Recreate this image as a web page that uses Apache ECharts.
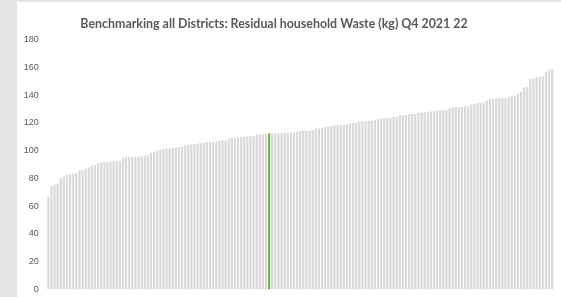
<!DOCTYPE html>
<html>
<head>
<meta charset="utf-8">
<script src="https://cdn.jsdelivr.net/npm/echarts@6/dist/echarts.min.js"></script>
<style>
  html, body { margin:0; padding:0; background:#e4e4e4; }
  #frame { position:absolute; left:17px; top:2px; right:0; bottom:0; background:#fff; }
  #main { position:absolute; left:0; top:0; width:561px; height:297px; }
</style>
</head>
<body>
<div id="frame"></div>
<div id="main"></div>
<script>
// residual household waste per district (kg), sorted ascending
var wasteValues = [
  67, 74.5, 75.4, 76.1, 80.2, 81.2, 82.6, 83, 83.4, 84,
  85.5, 86, 87, 87.7, 88.9, 89.6, 91, 91.5, 91.6, 91.7,
  92, 92.2, 92.3, 92.3, 94.8, 95.4, 95.5, 95.5, 95.6, 95.7,
  96.1, 96.3, 96.6, 98.3, 98.7, 100.2, 100.8, 101.1, 101.5, 101.6,
  101.7, 102.3, 102.6, 103, 103.6, 103.9, 104.4, 104.6, 105.1, 105.3,
  105.7, 106.3, 106.4, 106.4, 106.5, 107.3, 107.4, 107.5, 108.8, 109,
  109.1, 109.3, 109.8, 109.9, 110.2, 110.3, 110.4, 111.7, 111.9, 112,
  112.1, 112.4, 112.4, 112.5, 112.5, 112.6, 112.7, 113.1, 113.1, 113.2,
  113.6, 114.2, 114.3, 114.4, 114.5, 114.8, 115.9, 116, 116.2, 117,
  117.6, 117.8, 118.3, 118.4, 118.5, 118.6, 119.1, 119.8, 119.9, 120.1,
  121, 121.1, 121.2, 121.5, 121.6, 122.2, 122.6, 122.8, 123.4, 123.5,
  123.6, 124.1, 124.3, 125.5, 125.6, 125.7, 126.2, 126.3, 126.5, 127.4,
  127.5, 127.6, 127.7, 128.2, 128.4, 128.9, 129, 129.1, 129.4, 130.4,
  131.2, 131.4, 131.5, 131.6, 131.8, 132, 133.2, 133.4, 134.2, 134.4,
  135, 136.2, 137.4, 137.5, 137.6, 137.7, 137.8, 137.9, 138.6, 139.4,
  139.7, 141, 142.4, 145.4, 145.8, 151.6, 152.1, 152.9, 153.1, 153.7,
  156.4, 157.8, 159
];
var districts = wasteValues.map(function (v, i) { return 'District ' + (i + 1); });
var highlightIndex = 71;   // the district shown in green
var yTicks = { min: 0, max: 180, interval: 20 };

var chart = echarts.init(document.getElementById('main'));

var option = {
  backgroundColor: 'transparent',
  animation: false,
  title: {
    text: 'Benchmarking all Districts: Residual household Waste (kg) Q4 2021 22',
    left: 269,
    textAlign: 'center',
    top: 13,
    textStyle: {
      color: '#595959',
      fontFamily: 'Lato',
      fontWeight: 'bold',
      fontSize: 12.4
    }
  },
  grid: { left: 46.8, right: 7.3, top: 39.6, bottom: 7.7 },
  xAxis: {
    type: 'category',
    data: districts,
    axisLine: { show: false },
    axisTick: { show: false },
    axisLabel: { show: false },
    splitLine: { show: false }
  },
  yAxis: {
    type: 'value',
    min: yTicks.min,
    max: yTicks.max,
    interval: yTicks.interval,
    axisLine: { show: false },
    axisTick: { show: false },
    splitLine: { show: false },
    axisLabel: {
      color: '#595959',
      fontSize: 9,
      fontFamily: 'Liberation Sans',
      margin: 8
    }
  },
  series: [{
    type: 'bar',
    barCategoryGap: '30%',
    data: wasteValues.map(function (v, i) {
      return {
        value: v,
        itemStyle: { color: i === highlightIndex ? '#70ad47' : '#d9d9d9' }
      };
    })
  }]
};

chart.setOption(option);
</script>
</body>
</html>
